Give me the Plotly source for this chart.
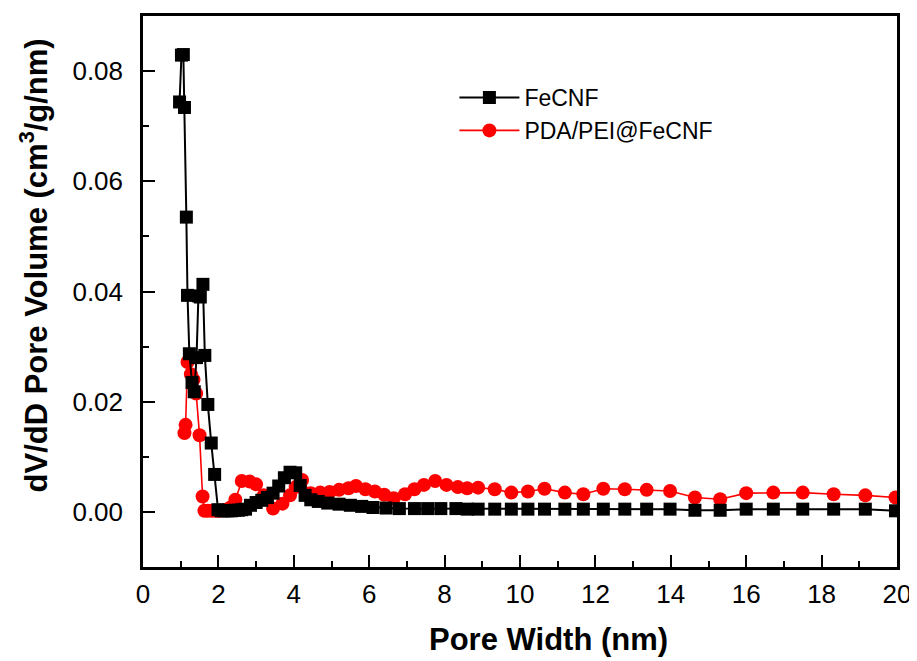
import plotly.graph_objects as go

# ---- data ----
fecnf_x = [0.97, 1.02, 1.07, 1.10, 1.15, 1.18, 1.23, 1.30, 1.36, 1.42, 1.47, 1.52, 1.59, 1.64,
           1.72, 1.81, 1.90, 1.99, 2.08, 2.17, 2.26, 2.35, 2.44, 2.53, 2.62, 2.72, 2.85, 3.00,
           3.15, 3.30, 3.45, 3.60, 3.75, 3.90, 4.05, 4.17, 4.30, 4.45, 4.65, 4.90, 5.20, 5.50,
           5.80, 6.10, 6.45, 6.80, 7.20, 7.55, 7.90, 8.30, 8.60, 8.89, 9.33, 9.77, 10.21, 10.65,
           11.19, 11.68, 12.21, 12.78, 13.36, 13.98, 14.64, 15.31, 16.00, 16.72, 17.50, 18.32,
           19.16, 19.96]
fecnf_y = [0.0744, 0.0829, 0.0830, 0.0734, 0.0535, 0.0393, 0.0287, 0.0235, 0.0218, 0.0280,
           0.0392, 0.0390, 0.0413, 0.0284, 0.0195, 0.0125, 0.0068, 0.0004, 0.0002, 0.0002,
           0.0002, 0.0002, 0.0003, 0.0003, 0.0004, 0.0005, 0.0012, 0.0017, 0.0021, 0.0026,
           0.0034, 0.0047, 0.0062, 0.0072, 0.0071, 0.0048, 0.0030, 0.0022, 0.0019, 0.0016,
           0.0014, 0.0012, 0.0010, 0.0008, 0.0007, 0.0006, 0.0006, 0.0006, 0.0006, 0.0006,
           0.0005, 0.0005, 0.0005, 0.0005, 0.0005, 0.0005, 0.0005, 0.0005, 0.0005, 0.0005,
           0.0005, 0.0005, 0.0003, 0.0003, 0.0005, 0.0005, 0.0005, 0.0005, 0.0005, 0.0002]

pda_x = [1.10, 1.13, 1.18, 1.27, 1.34, 1.41, 1.50, 1.58, 1.63, 1.72, 1.82, 1.92, 2.02, 2.12,
         2.22, 2.32, 2.45, 2.62, 2.83, 3.00, 3.20, 3.45, 3.70, 3.90, 4.05, 4.22, 4.45, 4.70,
         4.95, 5.20, 5.45, 5.65, 5.90, 6.15, 6.40, 6.65, 6.95, 7.20, 7.45, 7.75, 8.05, 8.35,
         8.60, 8.89, 9.33, 9.77, 10.21, 10.65, 11.19, 11.68, 12.21, 12.78, 13.36, 13.98,
         14.64, 15.31, 16.00, 16.72, 17.50, 18.32, 19.16, 19.96]
pda_y = [0.0143, 0.0158, 0.0272, 0.0250, 0.0240, 0.0215, 0.0139, 0.0028, 0.0002, 0.0002,
         0.0002, 0.0002, 0.0002, 0.0003, 0.0004, 0.0008, 0.0022, 0.0056, 0.0055, 0.0050,
         0.0030, 0.0006, 0.0015, 0.0030, 0.0045, 0.0058, 0.0034, 0.0035, 0.0036, 0.0040,
         0.0043, 0.0047, 0.0041, 0.0037, 0.0031, 0.0025, 0.0032, 0.0041, 0.0049, 0.0056,
         0.0049, 0.0045, 0.0043, 0.0044, 0.0041, 0.0035, 0.0037, 0.0042, 0.0035, 0.0032,
         0.0042, 0.0041, 0.0040, 0.0038, 0.0026, 0.0023, 0.0034, 0.0035, 0.0035, 0.0032,
         0.0030, 0.0026]

x_title = "Pore Width (nm)"
y_title = "dV/dD Pore Volume (cm<sup>3</sup>/g/nm)"

FONT = "Liberation Sans, Arial, sans-serif"

fig = go.Figure()
fig.add_trace(go.Scatter(
    x=pda_x, y=pda_y, name="PDA/PEI@FeCNF", mode="lines+markers",
    line=dict(color="#ff0000", width=1.6),
    marker=dict(symbol="circle", size=14, color="#ff0000", line=dict(width=0)),
    legendrank=2,
))
fig.add_trace(go.Scatter(
    x=fecnf_x, y=fecnf_y, name="FeCNF", mode="lines+markers",
    line=dict(color="#000000", width=2),
    marker=dict(symbol="square", size=13, color="#000000", line=dict(width=0)),
    legendrank=1,
))

axis_common = dict(
    showline=True, linecolor="black", linewidth=2.5, mirror=True,
    ticks="inside", ticklen=12, tickwidth=2, tickcolor="black",
    showgrid=False, zeroline=False,
    tickfont=dict(family=FONT, size=26, color="black"),
)

fig.update_xaxes(range=[0, 20], dtick=2, tick0=0,
                 minor=dict(ticks="inside", ticklen=6, tickwidth=2, dtick=1, tickcolor="black"),
                 ticklabelstandoff=2, **axis_common)
fig.update_yaxes(range=[-0.01, 0.09], dtick=0.02, tick0=0, tickformat=".2f",
                 minor=dict(ticks="inside", ticklen=6, tickwidth=2, dtick=0.01, tickcolor="black"),
                 ticklabelstandoff=12, **axis_common)

fig.add_annotation(text=x_title, xref="paper", yref="paper", x=0.538, y=-0.132,
                   xanchor="center", yanchor="middle", showarrow=False,
                   font=dict(family=FONT, size=31, color="black", weight="bold"))
fig.add_annotation(text=y_title, xref="paper", yref="paper", x=-0.144, y=0.548,
                   xanchor="center", yanchor="middle", showarrow=False, textangle=-90,
                   font=dict(family=FONT, size=31, color="black", weight="bold"))

# the page body adds an 8px offset, so the figure is sized to fill the rest of the window
fig.update_layout(
    width=909, height=653,
    margin=dict(l=135, r=20, t=5, b=94),
    paper_bgcolor="white", plot_bgcolor="white",
    showlegend=True,
    legend=dict(x=0.413, y=0.891, xanchor="left", yanchor="top",
                font=dict(family=FONT, size=23, color="black"),
                bgcolor="rgba(0,0,0,0)", itemwidth=60, tracegroupgap=0),
)

fig.write_html("out.html")
